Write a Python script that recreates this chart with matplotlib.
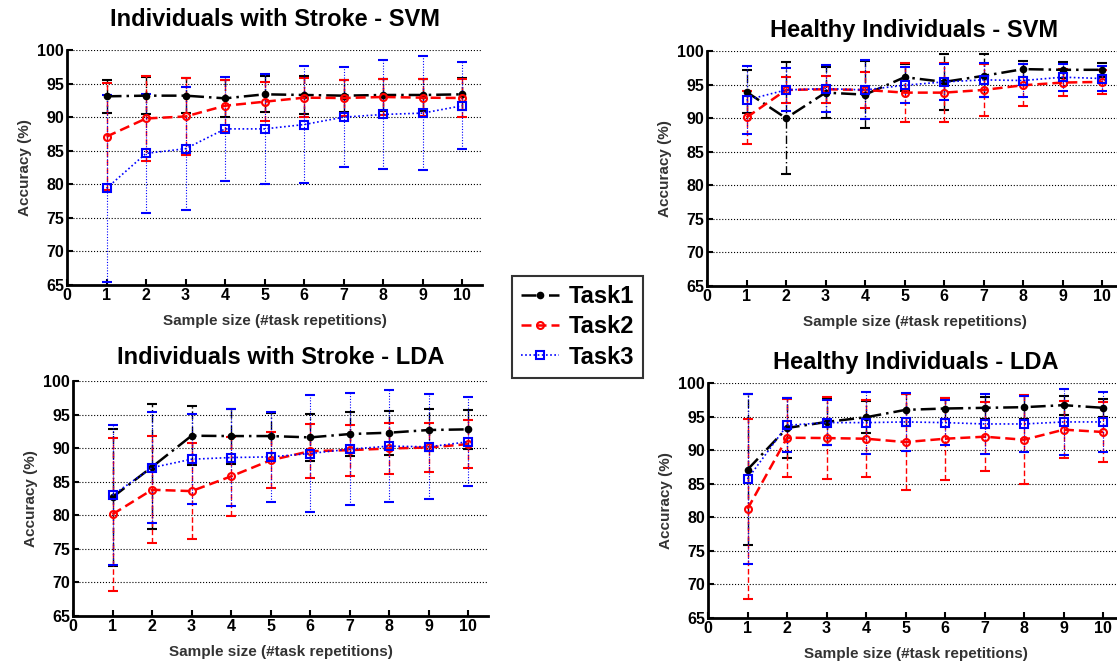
import numpy as np
import matplotlib.pyplot as plt

plt.rcParams['font.family'] = ['Liberation Sans', 'DejaVu Sans']
plt.rcParams['font.weight'] = 'bold'

x = np.arange(1, 11)

# Individuals with Stroke - SVM
s_svm_t1 = [93.1, 93.2, 93.2, 92.8, 93.4, 93.3, 93.2, 93.3, 93.3, 93.4]
s_svm_t1_err = [2.5, 2.8, 2.6, 2.8, 2.7, 2.8, 2.4, 2.4, 2.4, 2.4]
s_svm_t2 = [87.1, 89.8, 90.1, 91.7, 92.3, 92.9, 92.85, 93.0, 92.9, 92.85]
s_svm_t2_err = [8.0, 6.3, 5.7, 3.9, 2.9, 2.9, 2.7, 2.7, 2.8, 2.9]
s_svm_t3 = [79.4, 84.6, 85.3, 88.25, 88.25, 88.9, 90.0, 90.4, 90.6, 91.7]
s_svm_t3_err = [13.9, 8.9, 9.2, 7.75, 8.25, 8.65, 7.4, 8.05, 8.5, 6.5]

# Healthy Individuals - SVM
h_svm_t1 = [93.9, 90.0, 93.8, 93.5, 96.1, 95.4, 96.3, 97.3, 97.2, 97.2]
h_svm_t1_err = [3.2, 8.3, 3.75, 5.0, 2.0, 4.2, 3.2, 1.2, 1.2, 1.0]
h_svm_t2 = [90.1, 94.2, 94.3, 94.2, 93.8, 93.8, 94.2, 94.9, 95.3, 95.4]
h_svm_t2_err = [4.0, 1.9, 2.0, 2.7, 4.4, 4.4, 3.9, 3.1, 2.0, 1.8]
h_svm_t3 = [92.7, 94.2, 94.4, 94.2, 94.9, 95.4, 95.7, 95.6, 96.1, 95.9]
h_svm_t3_err = [5.0, 3.2, 3.5, 4.4, 2.7, 2.7, 2.5, 2.4, 2.0, 1.8]

# Individuals with Stroke - LDA
s_lda_t1 = [82.7, 87.2, 91.85, 91.8, 91.8, 91.6, 92.1, 92.3, 92.7, 92.8]
s_lda_t1_err = [10.2, 9.3, 4.4, 4.1, 3.5, 3.5, 3.3, 3.3, 3.1, 2.9]
s_lda_t2 = [80.15, 83.8, 83.6, 85.8, 88.2, 89.55, 89.7, 89.95, 90.1, 90.6]
s_lda_t2_err = [11.4, 8.0, 7.2, 5.9, 4.2, 4.0, 3.8, 3.8, 3.7, 3.6]
s_lda_t3 = [83.0, 87.1, 88.35, 88.6, 88.7, 89.2, 89.85, 90.3, 90.2, 90.95]
s_lda_t3_err = [10.4, 8.3, 6.7, 7.2, 6.7, 8.7, 8.3, 8.3, 7.8, 6.6]

# Healthy Individuals - LDA
h_lda_t1 = [87.1, 93.3, 94.2, 94.9, 96.0, 96.2, 96.3, 96.4, 96.7, 96.3]
h_lda_t1_err = [11.2, 4.5, 3.5, 2.4, 2.4, 1.6, 1.6, 1.7, 1.4, 1.3]
h_lda_t2 = [81.25, 91.85, 91.8, 91.7, 91.2, 91.7, 92.0, 91.55, 93.05, 92.7]
h_lda_t2_err = [13.4, 5.8, 6.1, 5.7, 7.1, 6.1, 5.1, 6.6, 4.2, 4.5]
h_lda_t3 = [85.7, 93.7, 94.1, 94.1, 94.2, 94.1, 93.9, 93.9, 94.2, 94.2]
h_lda_t3_err = [12.7, 4.0, 3.4, 4.6, 4.3, 3.3, 4.4, 4.2, 4.9, 4.5]

W, H = 1117, 665
fig = plt.figure(figsize=(W / 100, H / 100), dpi=100)


def px(l, t, r, b):
    return [l / W, 1 - b / H, (r - l) / W, (b - t) / H]


panels = [
    ("Individuals with Stroke - SVM", px(67, 50, 482, 285), 17,
     [(s_svm_t1, s_svm_t1_err), (s_svm_t2, s_svm_t2_err), (s_svm_t3, s_svm_t3_err)]),
    ("Healthy Individuals - SVM", px(707, 51, 1122, 286), 10,
     [(h_svm_t1, h_svm_t1_err), (h_svm_t2, h_svm_t2_err), (h_svm_t3, h_svm_t3_err)]),
    ("Individuals with Stroke - LDA", px(73, 381, 488, 616), 12,
     [(s_lda_t1, s_lda_t1_err), (s_lda_t2, s_lda_t2_err), (s_lda_t3, s_lda_t3_err)]),
    ("Healthy Individuals - LDA", px(708, 383, 1123, 618), 10,
     [(h_lda_t1, h_lda_t1_err), (h_lda_t2, h_lda_t2_err), (h_lda_t3, h_lda_t3_err)]),
]

styles = [
    dict(color='black', ls=(0, (6, 2, 1, 2)), marker='o', ms=4, mfc='black', lw=1.8, elw=1.0),
    dict(color='red', ls=(0, (4, 2)), marker='o', ms=5, mfc='none', lw=1.8, elw=1.0),
    dict(color='blue', ls=(0, (1, 1.5)), marker='s', ms=6, mfc='none', lw=1.2, elw=0.8),
]
labels = ['Task1', 'Task2', 'Task3']

handles = []
for title, pos, tpad, series in panels:
    ax = fig.add_axes(pos)
    for (y, e), st, lab in zip(series, styles, labels):
        cont = ax.errorbar(x, y, yerr=e, color=st['color'], ls=st['ls'], lw=st['lw'],
                           marker=st['marker'], ms=st['ms'], mfc=st['mfc'], mec=st['color'],
                           mew=1.5, elinewidth=st['elw'], capsize=3.5, capthick=1.0, label=lab)
        for bl in cont[2]:
            bl.set_linestyle(st['ls'])
        if len(handles) < 3:
            handles.append(cont[0])
    ax.set_xlim(0, 10.5)
    ax.set_ylim(65, 100)
    ax.set_xticks(range(0, 11))
    ax.set_yticks(range(65, 101, 5))
    ax.yaxis.grid(True, ls=':', color='black', lw=0.8)
    ax.set_axisbelow(True)
    ax.spines['top'].set_visible(False)
    ax.spines['right'].set_visible(False)
    ax.spines['left'].set_linewidth(2)
    ax.spines['bottom'].set_linewidth(2)
    ax.tick_params(direction='in', length=4, width=1.5, labelsize=11.5, pad=2)
    for lbl in ax.get_xticklabels() + ax.get_yticklabels():
        lbl.set_fontweight('bold')
    ax.set_title(title, fontsize=17, fontweight='bold', pad=tpad)
    ax.set_xlabel('Sample size (#task repetitions)', fontsize=11, fontweight='bold',
                  color='#333333', labelpad=8)
    ax.set_ylabel('Accuracy (%)', fontsize=11, fontweight='bold', color='#333333')

leg = fig.legend(handles, labels, loc='center', bbox_to_anchor=(577.5 / W, 1 - 327 / H),
                 prop={'size': 17, 'weight': 'bold'}, fancybox=False, edgecolor='black',
                 handlelength=1.6, handletextpad=0.4, borderpad=0.4, labelspacing=0.3)
leg.get_frame().set_linewidth(1.5)

fig.savefig('out.png', dpi=100)
